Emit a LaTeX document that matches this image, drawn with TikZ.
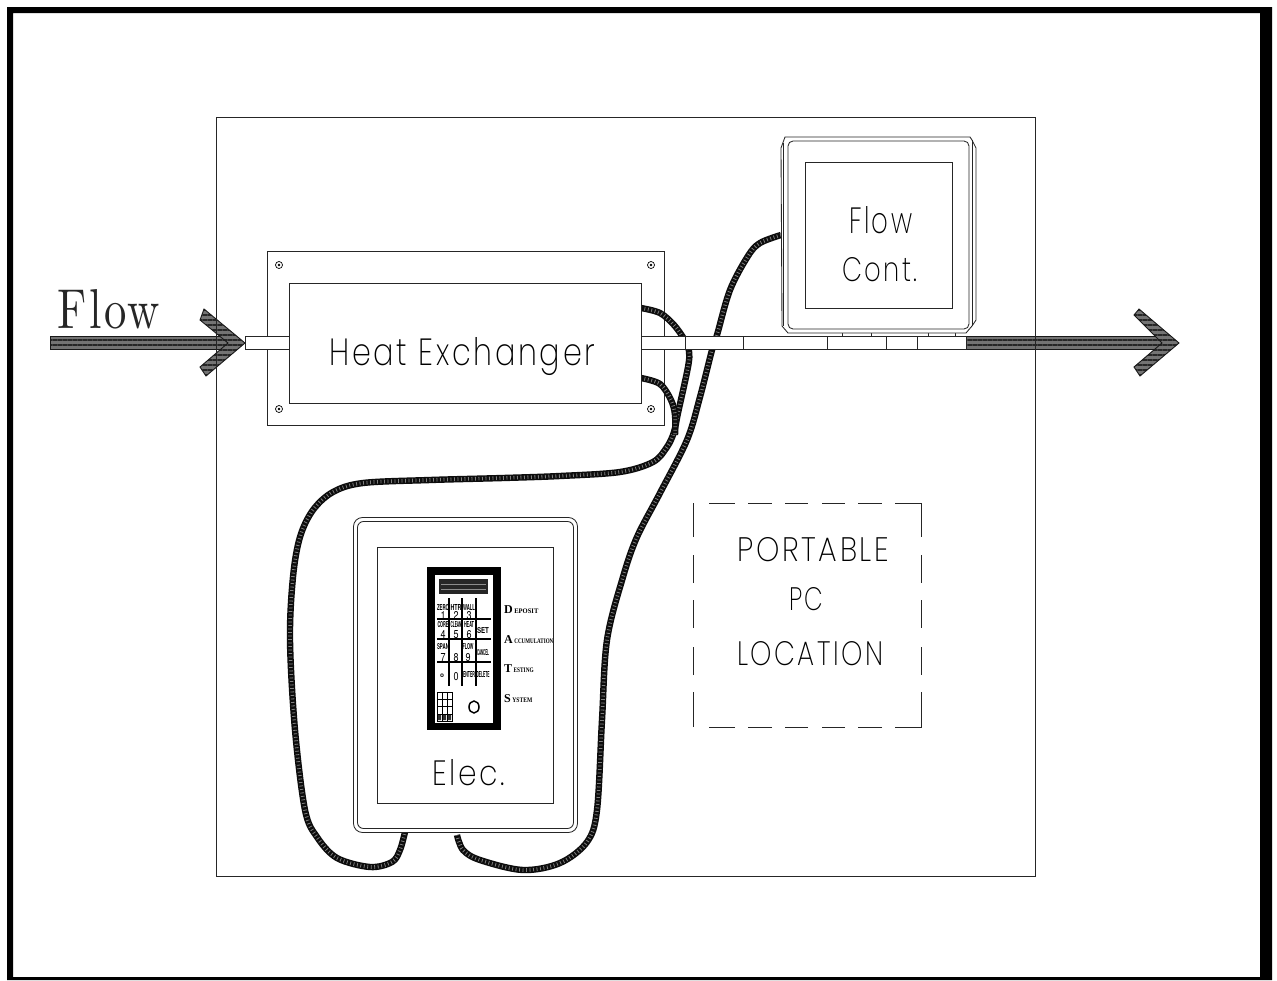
\documentclass[tikz,border=0pt]{standalone}
\usepackage{fontspec}
\usepackage{graphicx}
\setmainfont{Liberation Serif}
\newfontfamily\cad{Poppins ExtraLight}[LetterSpace=9]
\newfontfamily\key{TeX Gyre Heros}
\newfontfamily\lmr{Latin Modern Roman}[LetterSpace=6]
\usetikzlibrary{patterns.meta,shapes.geometric}
\newcommand{\cadtext}[5]{\node[anchor=base west,inner sep=0pt,text=black] (#1) at (#2) {\resizebox{#3pt}{#4pt}{\cad #5}};}
\newcommand{\keytxt}[4]{\node[anchor=base,inner sep=0pt,text=black] (#1) at (#2) {\resizebox{#3pt}{6pt}{\key\bfseries #4}};}
\newcommand{\keydig}[3]{\node[anchor=base,inner sep=0pt,text=black] (#1) at (#2) {\resizebox{#3pt}{8pt}{\key #1}};}
\newcommand{\dats}[5]{\node[anchor=base west,inner sep=0pt] (#1) at (#2) {\bfseries\fontsize{12}{12}\selectfont #3\hspace{1.5pt}\resizebox{#5pt}{4.6pt}{\fontsize{7}{7}\selectfont #4}};}
\tikzset{
  line/.style={line width=.85pt,black!85},
  box/.style={draw=black!85,line width=.85pt,inner sep=0pt,fill=white},
  rbox/.style={box,rounded corners=7pt},
  cable/.style={line width=6.4pt,black!95,postaction={draw,black!50,line width=3.6pt,dash pattern=on .8pt off 2.7pt}},
  hatch/.style={draw=black!90,line width=.9pt,preaction={fill=black!55},pattern={Lines[angle=0,distance=5pt,line width=2.6pt]},pattern color=black!85},
  screw/.style={circle,draw=black,line width=.7pt,minimum size=7pt,inner sep=0pt},
  gridline/.style={line width=1.7pt,black},
}
\begin{document}
\begin{tikzpicture}[x=1pt,y=-1pt]
\useasboundingbox (0,0) rectangle (1277,980);
% frame
\fill[black,even odd rule] (7,7) rectangle (1272,980) (13,13) rectangle (1260,977);
% left arrow
\path[hatch] (50,336) -- (228,336) -- (228,349) -- (50,349) -- cycle;
\path[hatch] (204,309) -- (245,343) -- (206,376) -- (200,367) -- (228,343) -- (200,320) -- cycle;
% right arrow
\path[hatch] (966,336) -- (1162,336) -- (1162,349) -- (966,349) -- cycle;
\path[hatch] (1139,309) -- (1179,343) -- (1140,376) -- (1134,367) -- (1162,343) -- (1134,315) -- cycle;
% panel
\node[draw=black!85,line width=.85pt,minimum width=819pt,minimum height=759pt,inner sep=0pt] (panel) at (625.5,496.5) {};
% heat exchanger plate
\node[draw=black!85,line width=.85pt,minimum width=397pt,minimum height=174pt,inner sep=0pt] (plate) at (465.5,338) {};
\foreach \n/\x/\y in {a/279/265,b/651/265,c/279/409,d/651/409}{
  \node[screw] (s\n) at (\x,\y) {};
  \fill[black] (s\n.center) circle (1.3pt);
}
% cable ends
\coordinate (hxa) at (641,308);
\coordinate (hxb) at (641,378);
\coordinate (fca) at (781,235);
\coordinate (ela) at (405,832);
\coordinate (elb) at (457,835);
% cables
\draw[cable] plot[smooth,tension=.55] coordinates {(hxa) (660,313) (674,325) (684,339) (689,351) (688,367) (678,413) (674,432) (667,447) (653,462) (620,472) (560,476) (503,478) (430,480) (363,483) (333,492) (313,510) (300,537) (293,577) (290,640) (295,730) (305,810) (317,837) (337,858) (370,867) (392,862) (400,850) (ela)};
\draw[cable] plot[smooth,tension=.55] coordinates {(hxb) (660,384) (671,400) (675,415) (675,435)};
\draw[cable] plot[smooth,tension=.55] coordinates {(fca) (760,243) (748,256) (730,290) (717,335) (712,350) (700,397) (687,440) (660,493) (637,537) (623,577) (607,640) (602,720) (597,810) (587,842) (560,863) (523,870) (480,860) (463,850) (elb)};
% pipes
\node[box,minimum width=44pt,minimum height=13pt] (pipeL) at (267,342.5) {};
\node[box,minimum width=325pt,minimum height=13pt] (pipeR) at (803.5,342.5) {};
\foreach \x in {685,743,827,886,917}{\draw[line] (\x,336) -- (\x,349);}
\foreach \x in {842,871,928,955}{\draw[line] (\x,333) -- (\x,336);}
% heat exchanger
\node[box,minimum width=352pt,minimum height=120pt] (hx) at (465,343) {};
\cadtext{hxt}{329,365}{266}{28}{Heat Exchanger}
% flow controller
\draw[line,fill=white] (785,137) -- (970,137) -- (972,140) -- (976,148) -- (976,320) -- (972,326) -- (966,333) -- (788,333) -- (782,326) -- (781,148) -- cycle;
\draw[line] (972,140) -- (972,326);
\draw[line] (783,143) -- (783,326);
\node[rbox,rounded corners=5pt,minimum width=181pt,minimum height=188pt] (fc) at (878.5,235) {};
\node[box,minimum width=147pt,minimum height=146pt] (fcw) at (878.5,235) {};
\cadtext{flow}{849,233}{63}{27}{Flow}
\cadtext{cont}{842,281}{75}{24}{Cont.}
% electronics
\node[rbox,rounded corners=9pt,minimum width=224pt,minimum height=315pt] (elo) at (465.5,675) {};
\node[rbox,rounded corners=6pt,minimum width=216pt,minimum height=307pt] (eli) at (465.5,675) {};
\node[box,minimum width=176pt,minimum height=256pt] (elw) at (465,675) {};
\cadtext{elec}{432,785}{73}{26}{Elec.}
% keypad
\node[fill=black,minimum width=74pt,minimum height=163pt,inner sep=0pt] (kp) at (464,648.5) {};
\node[fill=white,minimum width=58pt,minimum height=148pt,inner sep=0pt] (kpw) at (464,649) {};
\node[fill=black!85,minimum width=49pt,minimum height=15pt,inner sep=0pt] (disp) at (463.5,586.5) {};
\draw[black!45,line width=.6pt] (441,584) -- (486,584) (441,589) -- (486,589);
\foreach \x in {449,462,476}{\draw[gridline] (\x,598) -- (\x,686);}
\foreach \y/\a/\b in {619/437/491,639/437/491,662/437/491}{\draw[gridline] (\a,\y) -- (\b,\y);}
\keytxt{k1a}{443,610}{12}{ZERO}
\keydig{1}{443,619}{5}
\keytxt{k2a}{456,610}{11}{HTR}
\keydig{2}{456,619}{5}
\keytxt{k3a}{469,610}{12}{WALL}
\keydig{3}{469,619}{5}
\keytxt{k4a}{443,627}{11}{CORE}
\keydig{4}{443,638}{5}
\keytxt{k5a}{456,627}{11}{CLEAN}
\keydig{5}{456,638}{5}
\keytxt{k6a}{469,627}{10}{HEAT}
\keydig{6}{469,638}{5}
\keytxt{kset}{483,633}{12}{SET}
\keytxt{k7a}{443,649}{12}{SPAN}
\keydig{7}{443,661}{5}
\keydig{8}{456,661}{5}
\keytxt{k9a}{468,649}{11}{FLOW}
\keydig{9}{468,661}{5}
\keytxt{kcan}{483,655}{12}{CANCEL}
\node[anchor=base,inner sep=0pt] (kdot) at (442,677) {\resizebox{4pt}{!}{\key\bfseries o}};
\keydig{0}{456,680}{5}
\keytxt{kent}{469,677}{12}{ENTER}
\keytxt{kdel}{483,677}{13}{DELETE}
% small grid
\node[draw=black,line width=.9pt,minimum width=15pt,minimum height=29pt,inner sep=0pt] (sg) at (444.5,706.5) {};
\draw[black,line width=.7pt] (442,692) -- (442,721) (447,692) -- (447,721) (437,699) -- (452,699) (437,706) -- (452,706) (437,714) -- (452,714);
\fill[black!80] (438,715) rectangle (441,720) (443,715) rectangle (446,720) (448,715) rectangle (451,720);
\node[draw=black,line width=1.5pt,ellipse,minimum width=10pt,minimum height=12pt,inner sep=0pt] (knob) at (474,707) {};
% brand
\dats{da}{504,613}{D}{EPOSIT}{24}
\dats{db}{504,643}{A}{CCUMULATION}{39}
\dats{dc}{504,672}{T}{ESTING}{20}
\dats{dd}{504,702}{S}{YSTEM}{20}
% portable PC
\draw[line]
 (709,503)--(735,503) (748,503)--(772,503) (785,503)--(808,503) (822,503)--(845,503) (858,503)--(882,503) (895,503)--(921,503)--(921,537)
 (921,555)--(921,583) (921,600)--(921,628) (921,647)--(921,675) (921,692)--(921,727)--(895,727)
 (882,727)--(858,727) (845,727)--(822,727) (808,727)--(785,727) (772,727)--(748,727) (735,727)--(709,727)
 (693,727)--(693,692) (693,675)--(693,647) (693,628)--(693,600) (693,583)--(693,555) (693,537)--(693,503);
\cadtext{pa}{737,561}{152}{24}{PORTABLE}
\cadtext{pb}{789,610}{34}{23}{PC}
\cadtext{pc}{737,665}{146}{24}{LOCATION}
% big Flow label
\node[anchor=base west,inner sep=0pt,text=black!85] (flowlabel) at (57,328) {\resizebox{103pt}{39pt}{\lmr Flow}};
\end{tikzpicture}
\end{document}
